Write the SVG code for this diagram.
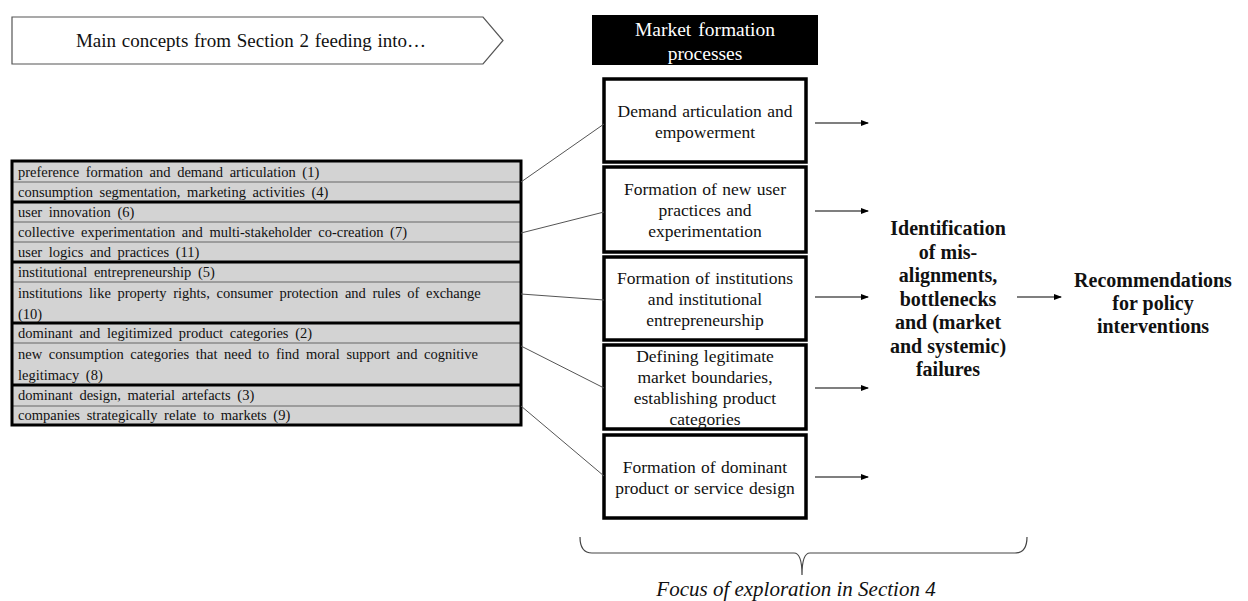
<svg xmlns="http://www.w3.org/2000/svg" width="1248" height="601" viewBox="0 0 1248 601">
<defs>
<marker id="ah" markerWidth="8" markerHeight="8" refX="7" refY="4" orient="auto" markerUnits="userSpaceOnUse">
<path d="M0,1 L8,4 L0,7 Z" fill="#000"/>
</marker>
<style>
.t{font-family:"Liberation Serif","Times New Roman",serif;fill:#111;}
.tab{font-size:14.5px;word-spacing:3px;}
.box{fill:#fff;stroke:#000;stroke-width:3.5;}
.bt{font-size:17.5px;text-anchor:middle;word-spacing:1px;}
.b{font-weight:bold;font-size:20px;text-anchor:middle;}
.thin{stroke:#8a8a8a;stroke-width:1.5;}
.thick{stroke:#000;stroke-width:3;}
.con{stroke:#555;stroke-width:1;fill:none;}
.arr{stroke:#000;stroke-width:1.2;fill:none;}
</style>
</defs>
<rect width="1248" height="601" fill="#fff"/>

<g id="header-arrow">
<path d="M12,17 H483 L503,40.5 L483,64 H12 Z" fill="#fff" stroke="#555" stroke-width="1.2"/>
<text class="t" x="251" y="47" font-size="19" text-anchor="middle" word-spacing="1">Main concepts from Section 2 feeding into…</text>
</g>

<g id="header-mfp">
<rect x="592" y="15" width="226" height="50" fill="#000"/>
<text class="t" x="705" y="36" font-size="19.5" text-anchor="middle" style="fill:#fff" word-spacing="2">Market formation</text>
<text class="t" x="705" y="60" font-size="19.5" text-anchor="middle" style="fill:#fff">processes</text>
</g>

<g id="concepts-table">
<rect x="12" y="161" width="509" height="264" fill="#d3d3d3"/>
<line class="thin" x1="12" y1="182" x2="521" y2="182"/>
<line class="thin" x1="12" y1="222" x2="521" y2="222"/>
<line class="thin" x1="12" y1="242" x2="521" y2="242"/>
<line class="thin" x1="12" y1="282" x2="521" y2="282"/>
<line class="thin" x1="12" y1="343" x2="521" y2="343"/>
<line class="thin" x1="12" y1="406" x2="521" y2="406"/>
<line class="thick" x1="12" y1="202" x2="521" y2="202"/>
<line class="thick" x1="12" y1="262" x2="521" y2="262"/>
<line class="thick" x1="12" y1="323" x2="521" y2="323"/>
<line class="thick" x1="12" y1="385" x2="521" y2="385"/>
<rect x="12" y="161" width="509" height="264" fill="none" stroke="#000" stroke-width="3"/>
<text class="t tab" x="18" y="177">preference formation and demand articulation (1)</text>
<text class="t tab" x="18" y="197">consumption segmentation, marketing activities (4)</text>
<text class="t tab" x="18" y="217">user innovation (6)</text>
<text class="t tab" x="18" y="237">collective experimentation and multi-stakeholder co-creation (7)</text>
<text class="t tab" x="18" y="257">user logics and practices (11)</text>
<text class="t tab" x="18" y="277">institutional entrepreneurship (5)</text>
<text class="t tab" x="18" y="298">institutions like property rights, consumer protection and rules of exchange</text>
<text class="t tab" x="18" y="319">(10)</text>
<text class="t tab" x="18" y="338">dominant and legitimized product categories (2)</text>
<text class="t tab" x="18" y="359">new consumption categories that need to find moral support and cognitive</text>
<text class="t tab" x="18" y="380">legitimacy (8)</text>
<text class="t tab" x="18" y="400">dominant design, material artefacts (3)</text>
<text class="t tab" x="18" y="420">companies strategically relate to markets (9)</text>
</g>

<g id="p1">
<rect class="box" x="604" y="79" width="202" height="83"/>
<text class="t bt" x="705" y="117">Demand articulation and</text>
<text class="t bt" x="705" y="138">empowerment</text>
</g>
<g id="p2">
<rect class="box" x="604" y="167" width="202" height="85"/>
<text class="t bt" x="705" y="195">Formation of new user</text>
<text class="t bt" x="705" y="216">practices and</text>
<text class="t bt" x="705" y="237">experimentation</text>
</g>
<g id="p3">
<rect class="box" x="604" y="257" width="202" height="83"/>
<text class="t bt" x="705" y="284">Formation of institutions</text>
<text class="t bt" x="705" y="305">and institutional</text>
<text class="t bt" x="705" y="326">entrepreneurship</text>
</g>
<g id="p4">
<rect class="box" x="604" y="345" width="202" height="84"/>
<text class="t bt" x="705" y="362">Defining legitimate</text>
<text class="t bt" x="705" y="383">market boundaries,</text>
<text class="t bt" x="705" y="404">establishing product</text>
<text class="t bt" x="705" y="425">categories</text>
</g>
<g id="p5">
<rect class="box" x="604" y="435" width="202" height="83"/>
<text class="t bt" x="705" y="473">Formation of dominant</text>
<text class="t bt" x="705" y="494">product or service design</text>
</g>

<g id="identification">
<text class="t b" x="948" y="235">Identification</text>
<text class="t b" x="948" y="258.5">of mis-</text>
<text class="t b" x="948" y="282">alignments,</text>
<text class="t b" x="948" y="305.5">bottlenecks</text>
<text class="t b" x="948" y="329">and (market</text>
<text class="t b" x="948" y="352.5">and systemic)</text>
<text class="t b" x="948" y="376">failures</text>
</g>

<g id="recommendations">
<text class="t b" x="1153" y="287">Recommendations</text>
<text class="t b" x="1153" y="310">for policy</text>
<text class="t b" x="1153" y="333">interventions</text>
</g>

<g id="connectors">
<line class="con" x1="521" y1="182" x2="604" y2="124"/>
<line class="con" x1="521" y1="233" x2="604" y2="212"/>
<line class="con" x1="521" y1="294" x2="604" y2="300"/>
<line class="con" x1="521" y1="346" x2="604" y2="388"/>
<line class="con" x1="521" y1="406" x2="604" y2="476"/>
<line class="arr" x1="815" y1="123" x2="868" y2="123" marker-end="url(#ah)"/>
<line class="arr" x1="815" y1="211" x2="868" y2="211" marker-end="url(#ah)"/>
<line class="arr" x1="815" y1="297" x2="868" y2="297" marker-end="url(#ah)"/>
<line class="arr" x1="815" y1="388" x2="868" y2="388" marker-end="url(#ah)"/>
<line class="arr" x1="815" y1="477" x2="868" y2="477" marker-end="url(#ah)"/>
<line class="arr" x1="1017" y1="297" x2="1061" y2="297" marker-end="url(#ah)"/>
</g>

<g id="focus-bracket">
<path d="M580,537 Q580,553 592,553 H794 Q802,553 802,575 Q802,553 810,553 H1015 Q1027,553 1027,537" fill="none" stroke="#444" stroke-width="1.2"/>
<text class="t" x="796" y="596" font-size="21" font-style="italic" text-anchor="middle">Focus of exploration in Section 4</text>
</g>
</svg>
